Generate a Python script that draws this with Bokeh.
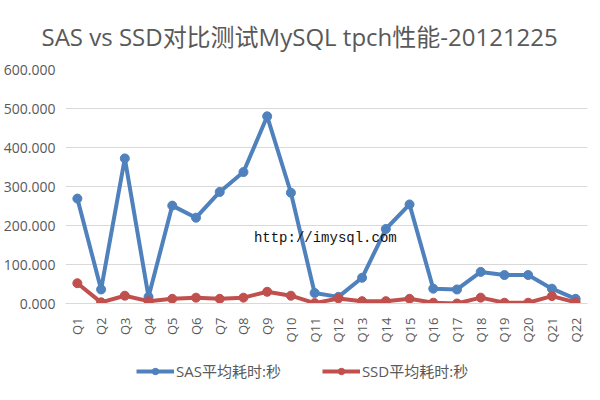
from bokeh.plotting import figure
from bokeh.models import FactorRange, Range1d, NumeralTickFormatter, FixedTicker, Legend, LegendItem, Label
from bokeh.layouts import column
from bokeh.embed import file_html
from bokeh.resources import INLINE
import math

queries = ["Q1", "Q2", "Q3", "Q4", "Q5", "Q6", "Q7", "Q8", "Q9", "Q10", "Q11",
           "Q12", "Q13", "Q14", "Q15", "Q16", "Q17", "Q18", "Q19", "Q20", "Q21", "Q22"]
sas_avg = [269, 36, 372, 17, 251, 220, 286, 337, 480, 284, 27,
           17, 66, 191, 254, 38, 36, 81, 73, 73, 38, 12]
ssd_avg = [52, 3, 20, 6, 12, 15, 12, 15, 30, 20, 1,
           13, 6, 6, 12, 2, 0, 15, 2, 2, 19, 3]
y_ticks = [0, 100, 200, 300, 400, 500, 600]

title_text = "SAS vs SSD对比测试MySQL tpch性能-20121225"
sas_label = "SAS平均耗时:秒"
ssd_label = "SSD平均耗时:秒"
watermark = "http://imysql.com"

FONT = "Open Sans, Noto Sans CJK SC"
GREY = "#595959"
BLUE = "#4F81BD"
RED = "#C0504D"

p1 = figure(x_range=FactorRange(*queries), y_range=Range1d(0, 600),
            frame_width=522, frame_height=234, output_backend="svg", toolbar_location=None,
            min_border_left=56, min_border_right=6, min_border_top=68,
            min_border_bottom=30)

p1.title.text = title_text
p1.title.align = "left"
p1.title.offset = -24
p1.title.standoff = 34
p1.title.text_font = FONT
p1.title.text_font_size = "24px"
p1.title.text_font_style = "normal"
p1.title.text_color = GREY

p1.line(queries, sas_avg, line_color=BLUE, line_width=4)
p1.scatter(queries, sas_avg, size=9, fill_color=BLUE, line_color=BLUE)
p1.line(queries, ssd_avg, line_color=RED, line_width=4)
p1.scatter(queries, ssd_avg, size=9, fill_color=RED, line_color=RED)

p1.yaxis.ticker = FixedTicker(ticks=y_ticks)
p1.yaxis.formatter = NumeralTickFormatter(format="0.000")
p1.yaxis.axis_line_color = None
p1.yaxis.major_tick_line_color = None
p1.yaxis.minor_tick_line_color = None
p1.yaxis.major_label_text_font = FONT
p1.yaxis.major_label_text_font_size = "14px"
p1.yaxis.major_label_text_color = GREY
p1.yaxis.major_label_standoff = 4

p1.xaxis.axis_line_color = "#D9D9D9"
p1.xaxis.major_tick_line_color = None
p1.xaxis.minor_tick_line_color = None
p1.xaxis.major_label_orientation = math.pi / 2
p1.xaxis.major_label_text_font = FONT
p1.xaxis.major_label_text_font_size = "13px"
p1.xaxis.major_label_text_color = GREY
p1.xaxis.major_label_standoff = 8

p1.xgrid.grid_line_color = None
p1.ygrid.grid_line_color = "#D9D9D9"
p1.outline_line_color = None

wm = Label(x=7.94, y=167, text=watermark, text_font="Liberation Mono",
           text_font_size="14px", text_color="#111111", text_baseline="middle")
p1.add_layout(wm)

# legend strip below the chart (its series lie outside the visible y range)
p2 = figure(x_range=FactorRange(*queries), y_range=Range1d(5000, 5001), width=584, height=36,
            output_backend="svg", toolbar_location=None, min_border=0)
p2.axis.visible = False
p2.grid.visible = False
p2.outline_line_color = None
k1 = p2.line(queries, sas_avg, line_color=BLUE, line_width=4)
m1 = p2.scatter(queries, sas_avg, size=9, fill_color=BLUE, line_color=BLUE)
k2 = p2.line(queries, ssd_avg, line_color=RED, line_width=4)
m2 = p2.scatter(queries, ssd_avg, size=9, fill_color=RED, line_color=RED)

legend = Legend(items=[LegendItem(label=sas_label, renderers=[k1, m1]),
                       LegendItem(label=ssd_label, renderers=[k2, m2])],
                orientation="horizontal", location=(71, 0),
                glyph_width=38, glyph_height=16, spacing=41, label_standoff=2,
                label_text_font=FONT, label_text_font_size="15px",
                label_text_color=GREY, border_line_color=None,
                background_fill_alpha=0, padding=4, margin=0)
p2.add_layout(legend)

layout = column(p1, p2, spacing=0)
open("out.html", "w").write(file_html(layout, INLINE))
